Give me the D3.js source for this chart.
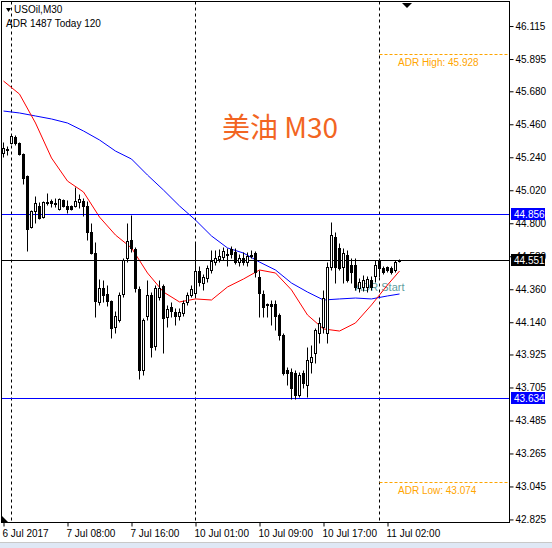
<!DOCTYPE html>
<html>
<head>
<meta charset="utf-8">
<script src="https://cdn.jsdelivr.net/npm/d3@7"></script>
<style>
body { margin: 0; background: #fff; }
svg text { font-family: "Liberation Sans", Arial, sans-serif; }
</style>
</head>
<body>
<div id="chart"></div>
<script>
// USOil M30 bars, index 0 = 6 Jul 23:00
const opens = [45.265,45.292,45.332,45.372,45.332,45.258,45.112,44.772,44.878,44.912,44.838,44.932,44.945,44.932,44.892,44.952,44.912,44.912,44.912,44.938,
  44.945,44.912,44.738,44.598,44.272,44.365,44.325,44.278,44.105,44.152,44.325,44.565,44.685,44.625,44.358,43.818,44.178,44.318,43.978,44.305,
  44.378,44.172,44.238,44.205,44.178,44.198,44.272,44.318,44.332,44.478,44.398,44.432,44.485,44.538,44.558,44.572,44.585,44.625,44.605,44.538,
  44.565,44.538,44.585,44.598,44.438,44.325,44.252,44.258,44.258,44.185,44.052,43.818,43.805,43.798,43.652,43.798,43.718,43.872,43.932,44.065,
  44.105,44.065,44.505,44.705,44.632,44.505,44.585,44.518,44.518,44.365,44.372,44.372,44.418,44.445,44.552,44.498,44.505,44.498,44.485,44.545];
const highs = [45.338,45.312,45.385,45.385,45.338,45.265,45.118,44.885,44.978,44.938,44.945,44.998,44.958,44.965,44.965,44.958,44.952,44.918,45.038,44.992,
  44.965,44.945,44.798,44.672,44.425,44.418,44.385,44.285,44.212,44.338,44.565,44.798,44.852,44.638,44.378,44.165,44.418,44.338,44.385,44.418,
  44.392,44.252,44.272,44.232,44.232,44.285,44.338,44.385,44.665,44.512,44.458,44.518,44.618,44.618,44.625,44.638,44.632,44.645,44.632,44.592,
  44.605,44.605,44.618,44.612,44.485,44.352,44.265,44.285,44.285,44.198,44.065,43.838,43.832,43.818,43.805,43.818,43.972,43.985,44.098,44.172,
  44.352,44.538,44.805,44.738,44.665,44.632,44.618,44.565,44.565,44.432,44.452,44.445,44.445,44.552,44.565,44.512,44.512,44.512,44.552,44.558];
const lows = [45.238,45.252,45.325,45.318,45.252,45.058,44.612,44.765,44.798,44.825,44.832,44.918,44.905,44.905,44.885,44.905,44.865,44.885,44.905,44.898,
  44.845,44.685,44.592,44.172,44.252,44.272,44.245,44.032,44.065,44.138,44.305,44.538,44.605,44.338,43.758,43.785,44.152,43.905,43.952,44.285,
  43.932,44.105,44.172,44.118,44.152,44.178,44.252,44.305,44.312,44.378,44.352,44.405,44.465,44.518,44.538,44.552,44.512,44.565,44.525,44.512,
  44.518,44.512,44.565,44.438,44.172,44.172,44.172,44.118,44.085,44.018,43.785,43.718,43.625,43.625,43.638,43.698,43.638,43.798,43.865,44.000,
  44.065,43.998,44.485,44.398,44.485,44.398,44.405,44.398,44.352,44.338,44.345,44.338,44.352,44.405,44.438,44.458,44.472,44.458,44.472,44.538];
const closes = [45.298,45.288,45.378,45.332,45.258,45.098,44.758,44.878,44.932,44.832,44.938,44.938,44.932,44.925,44.958,44.912,44.892,44.892,44.945,44.958,
  44.912,44.738,44.598,44.278,44.365,44.318,44.278,44.098,44.178,44.318,44.552,44.678,44.632,44.365,43.818,44.152,44.318,43.972,44.365,44.365,
  44.165,44.225,44.212,44.178,44.205,44.265,44.318,44.358,44.478,44.405,44.438,44.498,44.545,44.565,44.578,44.612,44.592,44.592,44.538,44.565,
  44.538,44.578,44.578,44.472,44.332,44.238,44.258,44.245,44.178,44.052,43.798,43.798,43.698,43.652,43.785,43.732,43.885,43.905,44.085,44.132,
  44.298,44.505,44.718,44.505,44.498,44.598,44.418,44.472,44.372,44.405,44.418,44.425,44.372,44.518,44.498,44.472,44.485,44.472,44.538,44.551];

// moving averages, read every 4 bars
const maIndex = [0,4,8,12,16,20,24,28,32,36,40,44,48,52,56,60,64,68,72,76,80,84,88,92,96,99];
const maFast = [45.745,45.658,45.465,45.232,45.078,45.005,44.838,44.718,44.632,44.465,44.338,44.272,44.292,44.285,44.372,44.425,44.485,44.465,44.352,44.185,44.092,44.078,44.132,44.252,44.385,44.478];
const maSlow = [45.545,45.532,45.512,45.492,45.465,45.412,45.352,45.278,45.225,45.118,45.018,44.912,44.818,44.712,44.632,44.598,44.538,44.485,44.398,44.338,44.285,44.292,44.298,44.292,44.312,44.325];

const priceTicks = ["46.115","45.895","45.680","45.460","45.240","45.020","44.800","44.580","44.360","44.140","43.925","43.705","43.485","43.265","43.045","42.825"];
const timeIndex = [0,16,32,48,64,80,96];
const timeLabels = ["6 Jul 2017","7 Jul 08:00","7 Jul 16:00","10 Jul 01:00","10 Jul 09:00","10 Jul 17:00","11 Jul 02:00"];
const daySeparators = [2,48,94];

const adrHigh = 45.928, adrLow = 43.074, adrStart = 94;
const levelLines = [44.856, 43.634];
const bid = 44.551;

let width = 552, height = 548;
let plot = {left: 1.5, top: 1.5, right: 509.5, bottom: 522.5};

let svg = d3.select("#chart").append("svg")
  .attr("width", width)
  .attr("height", height);

svg.append("rect").attr("width", width).attr("height", height).attr("fill", "#fff");

let x = d3.scaleLinear().domain([0, 126.5]).range([3.5, 509.5]);
let y = d3.scaleLinear().domain([42.808, 46.272]).range([521.5, 2]);
let py = v => Math.round(y(v)) + 0.5;

let chart = svg.append("g");

// day separators
chart.selectAll(".sep")
  .data(daySeparators)
  .enter().append("line")
  .attr("x1", d => x(d)).attr("x2", d => x(d))
  .attr("y1", plot.top).attr("y2", plot.bottom)
  .attr("stroke", "#000")
  .attr("stroke-dasharray", "3,3");

// ADR levels
[[adrHigh, "ADR High: "], [adrLow, "ADR Low: "]].forEach(a => {
  chart.append("line")
    .attr("x1", x(adrStart)).attr("x2", plot.right)
    .attr("y1", py(a[0])).attr("y2", py(a[0]))
    .attr("stroke", "#FFA500")
    .attr("stroke-dasharray", "3,2");
  chart.append("text")
    .attr("x", 398).attr("y", py(a[0]) + 11)
    .attr("font-size", "10px")
    .attr("fill", "#FFA500")
    .text(a[1] + a[0].toFixed(3));
});

chart.append("text")
  .attr("x", 280).attr("y", 138)
  .attr("text-anchor", "middle")
  .attr("font-size", "28px")
  .attr("fill", "#F26522")
  .style("font-family", "'Noto Sans CJK SC', sans-serif")
  .text("美油 M30");

chart.append("text")
  .attr("x", 355).attr("y", 291)
  .attr("font-size", "11px")
  .attr("fill", "#5F9EA0")
  .text("ADR Start");

// moving averages
let maLine = vals => d3.line()
  .x((d, i) => x(maIndex[i]))
  .y(d => y(d))(vals);
chart.append("path").attr("d", maLine(maSlow)).attr("fill", "none").attr("stroke", "#0000FF");
chart.append("path").attr("d", maLine(maFast)).attr("fill", "none").attr("stroke", "#FF0000");

// horizontal levels
chart.selectAll(".lvl")
  .data(levelLines)
  .enter().append("line")
  .attr("x1", plot.left).attr("x2", plot.right)
  .attr("y1", d => py(d)).attr("y2", d => py(d))
  .attr("stroke", "#0000FF");
chart.append("line")
  .attr("x1", plot.left).attr("x2", plot.right)
  .attr("y1", py(bid)).attr("y2", py(bid))
  .attr("stroke", "#000");

// candles
let bars = d3.range(opens.length);
chart.selectAll(".wick")
  .data(bars)
  .enter().append("line")
  .attr("x1", i => x(i)).attr("x2", i => x(i))
  .attr("y1", i => py(highs[i])).attr("y2", i => py(lows[i]))
  .attr("stroke", "#000");
chart.selectAll(".body")
  .data(bars)
  .enter().append("rect")
  .attr("x", i => x(i) - 1)
  .attr("width", 2)
  .attr("y", i => py(Math.max(opens[i], closes[i])))
  .attr("height", i => py(Math.min(opens[i], closes[i])) - py(Math.max(opens[i], closes[i])))
  .attr("fill", i => closes[i] >= opens[i] ? "#fff" : "#000")
  .attr("stroke", "#000");

// frame
svg.append("rect")
  .attr("x", plot.left).attr("y", plot.top)
  .attr("width", plot.right - plot.left).attr("height", plot.bottom - plot.top)
  .attr("fill", "none").attr("stroke", "#000");

// price axis
let yAxis = d3.axisRight(y)
  .tickValues(priceTicks.map(Number))
  .tickFormat((d, i) => priceTicks[i])
  .tickSize(4)
  .tickPadding(2);
let ya = svg.append("g")
  .attr("transform", "translate(" + plot.right + ",0.5)")
  .call(yAxis);
ya.select(".domain").remove();
ya.selectAll("text").attr("font-size", "10px").attr("fill", "#000").style("font-family", "'Liberation Sans', Arial, sans-serif");

// time axis
let xAxis = d3.axisBottom(x)
  .tickValues(timeIndex)
  .tickFormat((d, i) => timeLabels[i])
  .tickSize(4)
  .tickPadding(3);
let xa = svg.append("g")
  .attr("transform", "translate(0," + plot.bottom + ")")
  .call(xAxis);
xa.select(".domain").remove();
xa.selectAll("text").attr("text-anchor", "start").attr("dx", "-1.5")
  .attr("font-size", "10px").attr("fill", "#000").style("font-family", "'Liberation Sans', Arial, sans-serif");

// price boxes on the right
let boxes = [[levelLines[0], "#0000FF"], [bid, "#000"], [levelLines[1], "#0000FF"]];
boxes.forEach(b => {
  let g = svg.append("g").attr("transform", "translate(511," + py(b[0]) + ")");
  g.append("rect").attr("x", 0).attr("y", -6.5).attr("width", 34).attr("height", 12).attr("fill", b[1]);
  g.append("text").attr("x", 3).attr("y", 3.5)
    .attr("font-size", "10px").attr("fill", "#fff")
    .text(b[0].toFixed(3));
});

// header texts
svg.append("path").attr("d", "M6,8 L11,8 L8.5,12 Z").attr("fill", "#000");
svg.append("text").attr("x", 14).attr("y", 13).attr("font-size", "10px").attr("fill", "#000").text("USOil,M30");
svg.append("text").attr("x", 6).attr("y", 27).attr("font-size", "10px").attr("fill", "#000").text("ADR 1487  Today 120");

// shift markers
svg.append("path").attr("d", "M402,3 L412,3 L407,8 Z").attr("fill", "#000");
svg.append("path").attr("d", "M2,516 L2,522 L8,522 Z").attr("fill", "#000");

// window edge
svg.append("rect").attr("x", 0).attr("y", 543).attr("width", width).attr("height", 5).attr("fill", "#dfe8f5");
svg.append("line").attr("x1", 0).attr("x2", width).attr("y1", 542.5).attr("y2", 542.5).attr("stroke", "#c8c8c8");
</script>
</body>
</html>
